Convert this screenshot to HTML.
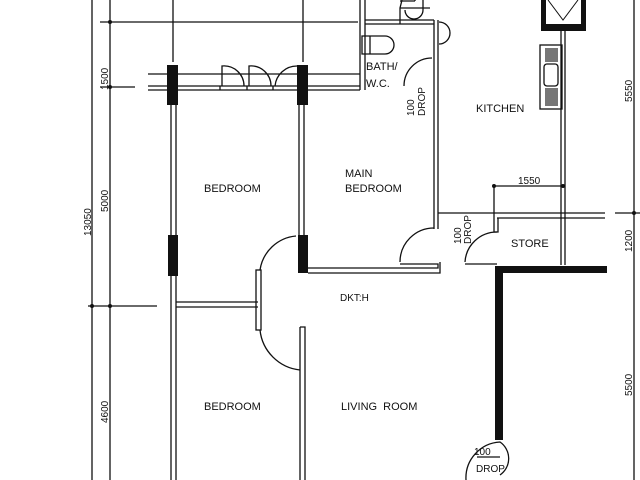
<!DOCTYPE html>
<html><head><meta charset="utf-8"><style>
html,body{margin:0;padding:0;background:#fff;width:640px;height:480px;overflow:hidden}
text{font-family:"Liberation Sans",sans-serif;fill:#111}
</style></head><body>
<svg width="640" height="480" viewBox="0 0 640 480" xmlns="http://www.w3.org/2000/svg">
<g stroke="#111" stroke-width="1.3" fill="none">
<!-- left dimension lines -->
<line x1="92" y1="0" x2="92" y2="480"/>
<line x1="110" y1="0" x2="110" y2="480"/>
<line x1="100" y1="22" x2="358" y2="22"/>
<line x1="100" y1="87" x2="135" y2="87"/>
<line x1="88" y1="306" x2="157" y2="306"/>
<line x1="173" y1="0" x2="173" y2="62"/>
<line x1="303" y1="0" x2="303" y2="62"/>
<!-- top window wall -->
<line x1="148" y1="74" x2="360" y2="74"/>
<line x1="148" y1="86" x2="360" y2="86"/>
<line x1="148" y1="90" x2="360" y2="90"/>
<line x1="220" y1="86" x2="220" y2="90"/><line x1="247" y1="86" x2="247" y2="90"/><line x1="273" y1="86" x2="273" y2="90"/>
<path d="M222 86 V66 A20 20 0 0 1 244 86"/>
<path d="M249 86 V66 A20 20 0 0 1 271 86"/>
<path d="M275 86 A22 22 0 0 1 297 66"/>
<!-- bedroom left wall -->
<line x1="171" y1="105" x2="171" y2="480"/>
<line x1="176" y1="105" x2="176" y2="480"/>
<!-- main bedroom left wall -->
<line x1="299" y1="105" x2="299" y2="235"/>
<line x1="304" y1="105" x2="304" y2="235"/>
<!-- passage walls -->
<line x1="176" y1="302" x2="258" y2="302"/>
<line x1="176" y1="307" x2="258" y2="307"/>
<rect x="256" y="270" width="5" height="60"/>
<path d="M260 270 A40 40 0 0 1 296 236"/>
<path d="M260 330 A45 45 0 0 0 300 370"/>
<path d="M300 327 H305 V480 M300 327 V480"/>
<!-- main bedroom bottom wall -->
<path d="M308 268 H438 V264 H400 M308 273 H440 V262"/>
<!-- main bedroom right wall -->
<line x1="434" y1="20" x2="434" y2="229"/>
<line x1="438" y1="20" x2="438" y2="229"/>
<path d="M400 262 A34 34 0 0 1 434 228"/>
<!-- bath -->
<path d="M360 0 V90 M365 0 V90 M365 20 H434 M365 24 H434"/>
<path d="M362 36 H370 V54 H362 Z M370 36 H385 A9 9 0 0 1 385 54 H370"/>
<path d="M405 10 A9 9 0 0 0 423 10 V0"/>
<path d="M400 24 V8 L402 0 M400 8 H430"/>
<path d="M439 22 A10 10 0 0 1 439 44"/>
<path d="M404 86 A28 28 0 0 1 432 58"/>
<path d="M400 1 H415 M415 1 V0"/>
<!-- kitchen -->
<path d="M561 30 V265 M565 30 V265"/>
<rect x="540" y="45" width="22" height="64"/>
<rect x="544" y="64" width="14" height="22" rx="3"/>
<path d="M438 213 H605 M615 213 H640 M497 218 H605"/>
<path d="M494 186 H563 M494 186 V218"/>
<path d="M494 218 V232 H498 V218"/>
<path d="M465 262 A32 32 0 0 1 497 232"/>
<path d="M465 264 H497"/>
<!-- right dimension -->
<line x1="634" y1="0" x2="634" y2="480"/>
<!-- entrance door -->
<path d="M466 480 A36 36 0 0 1 500 442 A20 20 0 0 1 500 475"/>
<line x1="477" y1="457" x2="500" y2="457"/>
</g>
<g fill="#111">
<rect x="167" y="65" width="11" height="40"/>
<rect x="297" y="65" width="11" height="40"/>
<rect x="168" y="235" width="10" height="41"/>
<rect x="298" y="235" width="10" height="38"/>
<rect x="495" y="266" width="112" height="7"/>
<rect x="495" y="266" width="8" height="174"/>
<rect x="541" y="0" width="45" height="31"/>
<rect x="546" y="0" width="35" height="24" fill="#fff"/>
<rect x="545" y="48" width="13" height="14" fill="#777"/>
<rect x="545" y="88" width="13" height="18" fill="#777"/>
<circle cx="110" cy="22" r="2"/><circle cx="110" cy="87" r="2"/><circle cx="110" cy="306" r="2"/><circle cx="92" cy="306" r="2"/>
<circle cx="494" cy="186" r="2"/><circle cx="563" cy="186" r="2"/><circle cx="634" cy="213" r="2"/>
</g>
<path d="M548 0 L563 20 L578 0" stroke="#111" fill="none"/>
<g font-size="11">
<text x="204" y="192">BEDROOM</text>
<text x="345" y="177">MAIN</text>
<text x="345" y="192">BEDROOM</text>
<text x="476" y="112">KITCHEN</text>
<text x="511" y="247">STORE</text>
<text x="204" y="410">BEDROOM</text>
<text x="341" y="410">LIVING&#160;&#160;ROOM</text>
<text x="366" y="70">BATH/</text>
<text x="366" y="87">W.C.</text>
<text x="340" y="301" font-size="10">DKT:H</text>
<text x="518" y="184" font-size="10">1550</text>
<text x="474" y="455" font-size="10">100</text>
<text x="476" y="472" font-size="10">DROP</text>
</g>
<g font-size="10">
<text transform="translate(108,90) rotate(-90)">1500</text>
<text transform="translate(108,212) rotate(-90)">5000</text>
<text transform="translate(108,423) rotate(-90)">4600</text>
<text transform="translate(91,236) rotate(-90)">13050</text>
<text transform="translate(632,102) rotate(-90)">5550</text>
<text transform="translate(632,252) rotate(-90)">1200</text>
<text transform="translate(632,396) rotate(-90)">5500</text>
<text transform="translate(414,116) rotate(-90)">100</text>
<text transform="translate(425,116) rotate(-90)">DROP</text>
<text transform="translate(461,244) rotate(-90)">100</text>
<text transform="translate(471,244) rotate(-90)">DROP</text>
</g>
</svg>
</body></html>
